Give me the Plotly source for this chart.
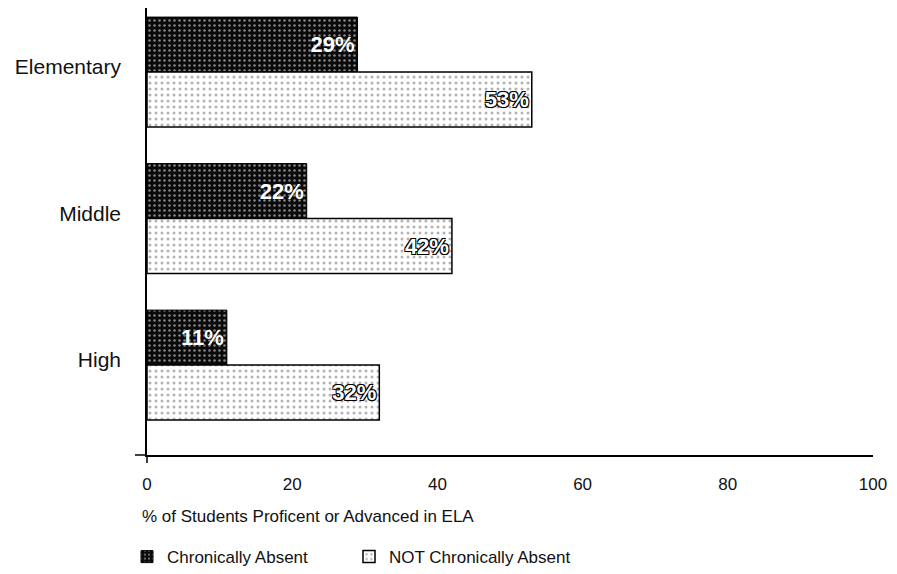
import plotly.graph_objects as go

categories = ["Elementary", "Middle", "High"]
chronic = [29, 22, 11]
not_chronic = [53, 42, 32]
series_names = ["Chronically Absent", "NOT Chronically Absent"]
x_ticks = [0, 20, 40, 60, 80, 100]
x_title = "% of Students Proficent or Advanced in ELA"

FONT = "Liberation Sans, Arial, sans-serif"

fig = go.Figure()
fig.add_trace(go.Bar(
    y=categories, x=chronic, orientation="h", name=series_names[0],
    legend="legend",
    marker=dict(color="#111111",
                line=dict(color="#000000", width=1),
                pattern=dict(shape=".", fgcolor="#ffffff", bgcolor="#0a0a0a",
                             size=5, solidity=0.2)),
    text=[f"{v}%" for v in chronic], textposition="inside",
    insidetextanchor="end",
    textfont=dict(family=FONT, size=22, color="#ffffff", weight="bold"),
))
fig.add_trace(go.Bar(
    y=categories, x=not_chronic, orientation="h", name=series_names[1],
    legend="legend2",
    marker=dict(color="#ffffff",
                line=dict(color="#000000", width=1.5),
                pattern=dict(shape=".", fgcolor="#666666", bgcolor="#ffffff",
                             size=6, solidity=0.2)),
    text=[f"{v}%" for v in not_chronic], textposition="inside",
    insidetextanchor="end",
    textfont=dict(family=FONT, size=22, color="#ffffff", weight="bold",
                  shadow="-1px -1px 0 #000, 1px -1px 0 #000, -1px 1px 0 #000, 1px 1px 0 #000"),
))

W, H = 881, 558
L, R = 139, 16
PW = W - L - R
fig.update_layout(
    width=W, height=H,
    margin=dict(l=L, r=R, t=0, b=111),
    paper_bgcolor="white", plot_bgcolor="white",
    barmode="group", bargap=0.25, bargroupgap=0.0,
    font=dict(family=FONT, color="#111111"),
    showlegend=True,
    legend=dict(orientation="h", xref="container", yref="container",
                x=119 / W, y=0.016, xanchor="left", yanchor="middle",
                font=dict(size=17, family=FONT)),
    legend2=dict(orientation="h", xref="container", yref="container",
                 x=341 / W, y=0.016, xanchor="left", yanchor="middle",
                 font=dict(size=17, family=FONT)),
    xaxis=dict(range=[0, 100], tickvals=x_ticks, showgrid=False,
               showline=True, linecolor="#000", linewidth=1.5,
               zeroline=False, ticks="", ticklabelstandoff=13,
               ticklabeloverflow="allow", automargin=False,
               tickfont=dict(size=17, family=FONT)),
    yaxis=dict(type="category", range=[2.614, -0.437], showgrid=False,
               showline=True, linecolor="#000", linewidth=1.5,
               ticks="", ticklabelstandoff=20, ticklabelshift=5,
               automargin=False,
               tickfont=dict(size=21, family=FONT)),
    annotations=[dict(text=x_title,
                      xref="paper", yref="paper", x=-7 / PW, y=-0.1365,
                      xanchor="left", yanchor="middle", showarrow=False,
                      font=dict(size=17, family=FONT))],
    shapes=[
        dict(type="line", xref="paper", yref="paper", x0=-12 / PW, x1=0,
             y0=0, y1=0, line=dict(color="#000", width=1.5)),
        dict(type="line", xref="paper", yref="paper", x0=0, x1=0,
             y0=0, y1=-8 / 447, line=dict(color="#000", width=1.5)),
    ],
)

fig.write_html("out.html")
